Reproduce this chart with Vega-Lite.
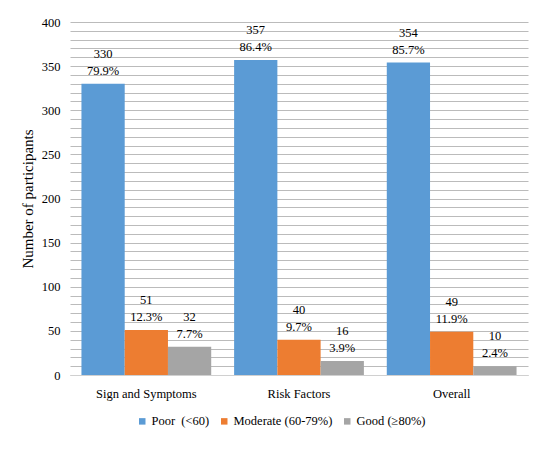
{
  "$schema": "https://vega.github.io/schema/vega-lite/v6.json",
  "width": 458,
  "height": 353,
  "autosize": "none",
  "padding": {"left": 70, "top": 22, "right": 22, "bottom": 74},
  "background": "white",
  "data": {
    "values": [
      {"domain": "Sign and Symptoms", "level": "Poor \u00a0(<60)", "n": 330, "pct": "79.9%"},
      {"domain": "Sign and Symptoms", "level": "Moderate (60-79%)", "n": 51, "pct": "12.3%"},
      {"domain": "Sign and Symptoms", "level": "Good (≥80%)", "n": 32, "pct": "7.7%"},
      {"domain": "Risk Factors", "level": "Poor \u00a0(<60)", "n": 357, "pct": "86.4%"},
      {"domain": "Risk Factors", "level": "Moderate (60-79%)", "n": 40, "pct": "9.7%"},
      {"domain": "Risk Factors", "level": "Good (≥80%)", "n": 16, "pct": "3.9%"},
      {"domain": "Overall", "level": "Poor \u00a0(<60)", "n": 354, "pct": "85.7%"},
      {"domain": "Overall", "level": "Moderate (60-79%)", "n": 49, "pct": "11.9%"},
      {"domain": "Overall", "level": "Good (≥80%)", "n": 10, "pct": "2.4%"}
    ]
  },
  "encoding": {
    "x": {
      "field": "domain",
      "type": "nominal",
      "sort": ["Sign and Symptoms", "Risk Factors", "Overall"],
      "scale": {"paddingInner": 0.15, "paddingOuter": 0.075},
      "axis": {
        "title": null,
        "labelAngle": 0,
        "ticks": false,
        "domainColor": "#d0d0d0",
        "labelPadding": 12,
        "labelFont": "Liberation Serif",
        "labelFontSize": 12.5,
        "labelColor": "#000000"
      }
    },
    "xOffset": {
      "field": "level",
      "type": "nominal",
      "sort": ["Poor \u00a0(<60)", "Moderate (60-79%)", "Good (≥80%)"]
    },
    "y": {
      "field": "n",
      "type": "quantitative",
      "scale": {"domain": [0, 400], "nice": false},
      "axis": {
        "title": "Number of participants",
        "titleFont": "Liberation Serif",
        "titleFontSize": 15,
        "titleFontWeight": "normal",
        "titleColor": "#000000",
        "titlePadding": 6,
        "values": [0, 10, 20, 30, 40, 50, 60, 70, 80, 90, 100, 110, 120, 130, 140, 150, 160, 170, 180, 190, 200, 210, 220, 230, 240, 250, 260, 270, 280, 290, 300, 310, 320, 330, 340, 350, 360, 370, 380, 390, 400],
        "labelExpr": "datum.value % 50 === 0 ? datum.label : ''",
        "ticks": false,
        "domain": false,
        "grid": true,
        "gridColor": "#bbbbbb",
        "gridOpacity": 1,
        "gridWidth": 1,
        "labelPadding": 10,
        "labelFont": "Liberation Serif",
        "labelFontSize": 12.5,
        "labelColor": "#000000"
      }
    }
  },
  "layer": [
    {
      "mark": {"type": "bar"},
      "encoding": {
        "color": {
          "field": "level",
          "type": "nominal",
          "sort": ["Poor \u00a0(<60)", "Moderate (60-79%)", "Good (≥80%)"],
          "scale": {
            "domain": ["Poor \u00a0(<60)", "Moderate (60-79%)", "Good (≥80%)"],
            "range": ["#5b9bd5", "#ed7d31", "#a5a5a5"]
          },
          "legend": {
            "title": null,
            "orient": "none",
            "direction": "horizontal",
            "legendX": 66,
            "legendY": 393,
            "symbolType": "square",
            "symbolSize": 42,
            "symbolStrokeWidth": 0,
            "labelFont": "Liberation Serif",
            "labelFontSize": 12.5,
            "labelColor": "#000000",
            "columnPadding": 8,
            "labelOffset": 3
          }
        }
      }
    },
    {
      "mark": {"type": "text", "baseline": "bottom", "dy": -23, "font": "Liberation Serif", "fontSize": 12.5, "color": "#000000"},
      "encoding": {"text": {"field": "n", "type": "quantitative"}}
    },
    {
      "mark": {"type": "text", "baseline": "bottom", "dy": -6, "font": "Liberation Serif", "fontSize": 12.5, "color": "#000000"},
      "encoding": {"text": {"field": "pct", "type": "nominal"}}
    }
  ],
  "config": {
    "font": "Liberation Serif",
    "view": {"stroke": null}
  }
}
